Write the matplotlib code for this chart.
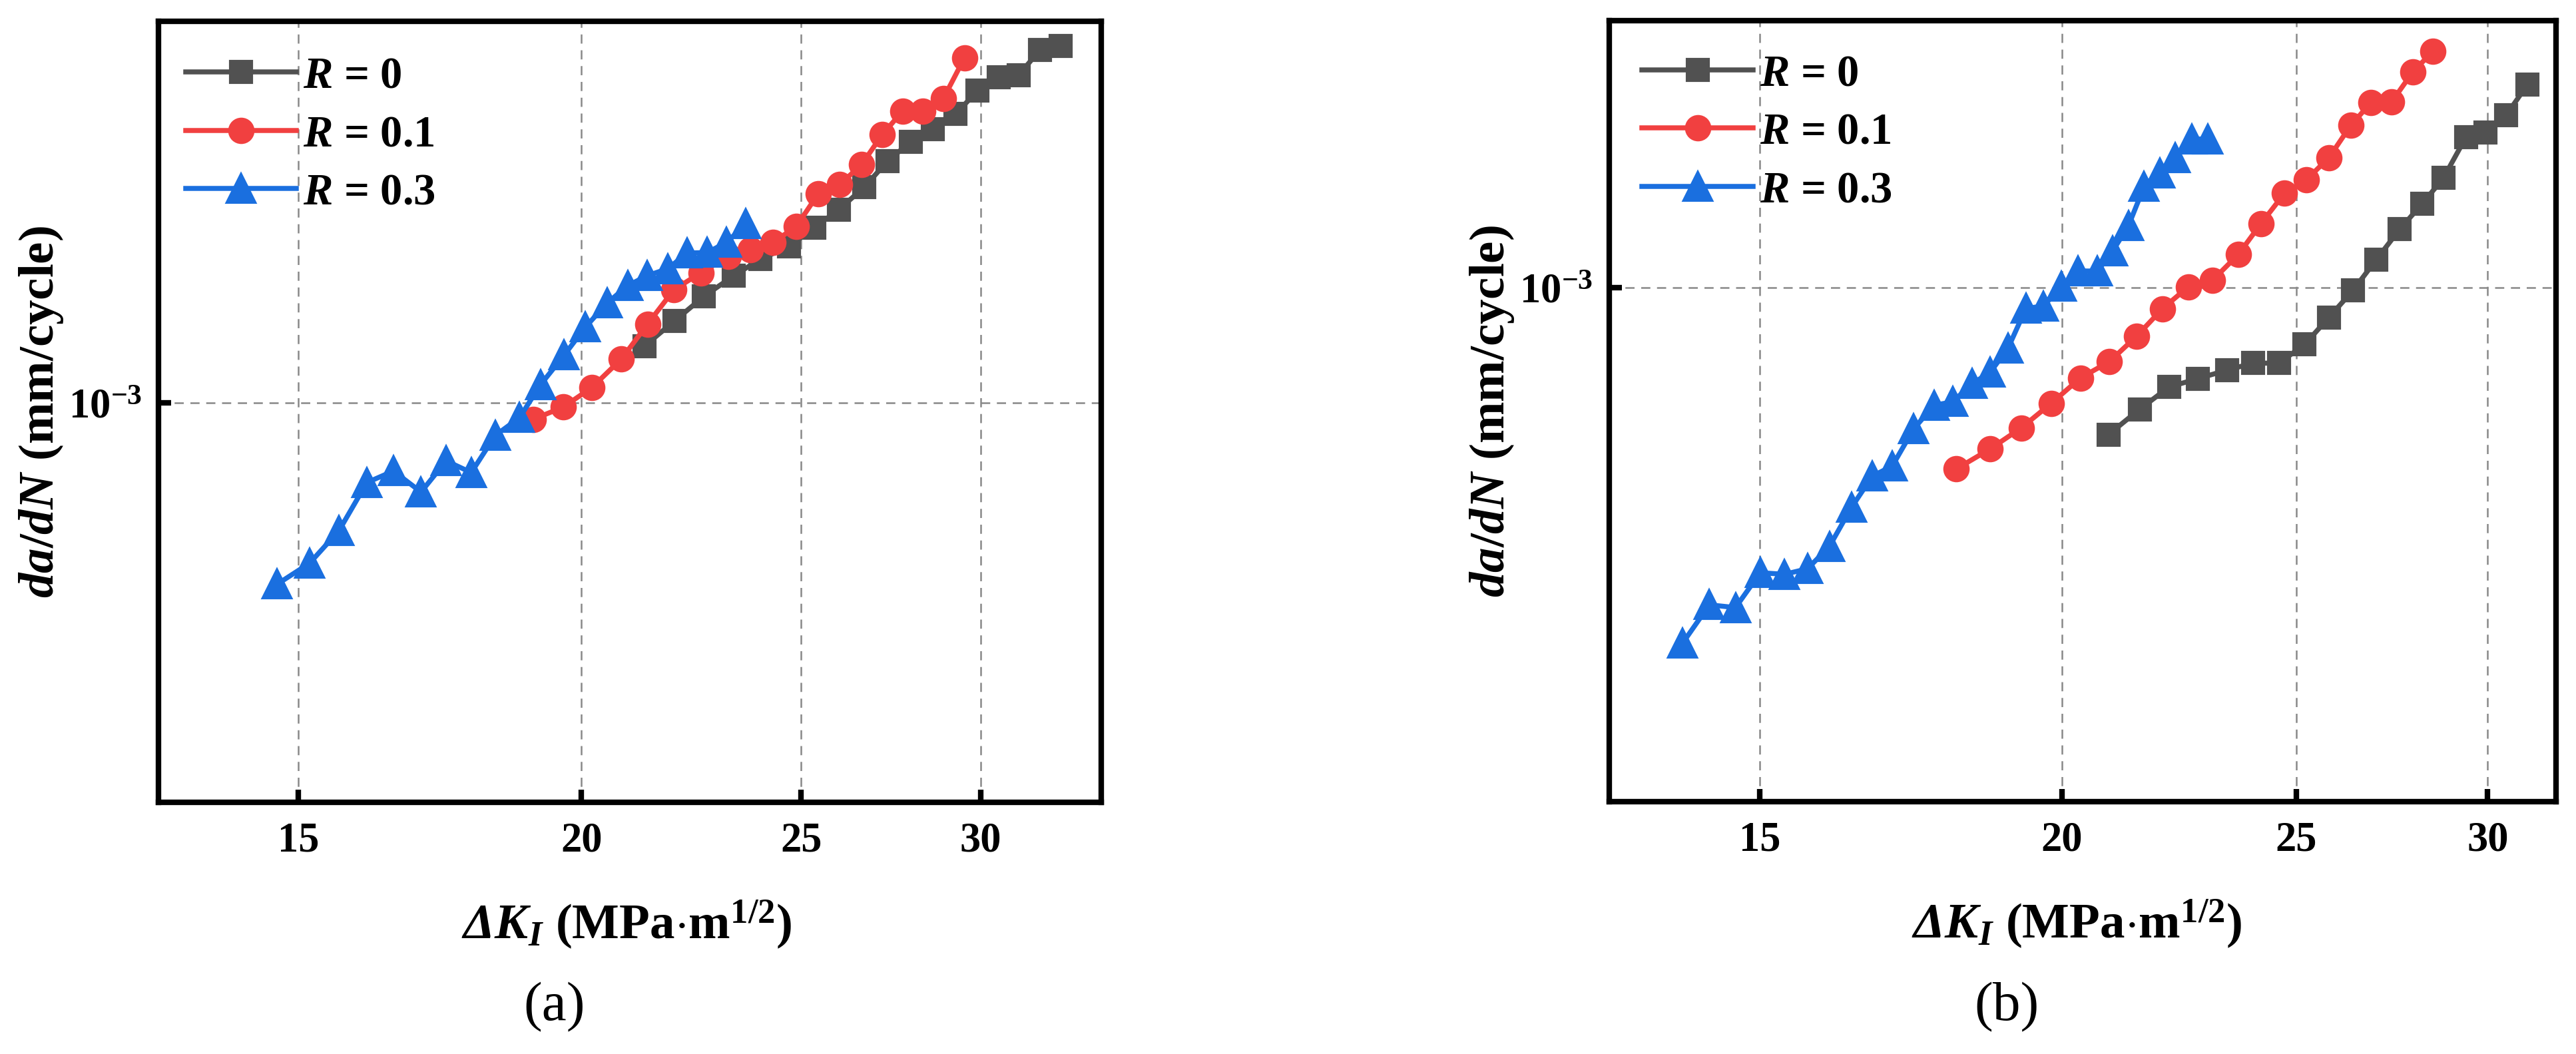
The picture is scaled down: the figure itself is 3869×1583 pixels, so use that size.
import numpy as np
import matplotlib
matplotlib.use('Agg')
import matplotlib.pyplot as plt
from matplotlib.ticker import FixedLocator, FixedFormatter, NullLocator

# (a) stress intensity factor range (MPa·m^1/2) and da/dN (x1e-4 mm/cycle)
a_dk_r0 = [21.32, 21.98, 22.65, 23.35, 23.99, 24.70, 25.34, 25.98, 26.66, 27.30, 27.95, 28.58, 29.25, 29.91, 30.56, 31.19, 31.88, 32.54]
a_da_r0 = [12.73, 14.17, 15.74, 17.19, 18.45, 19.47, 21.08, 22.79, 25.06, 28.03, 30.39, 32.12, 34.21, 37.78, 40.01, 40.41, 45.01, 45.75]
a_dk_r1 = [19.04, 19.63, 20.21, 20.83, 21.39, 21.97, 22.58, 23.22, 23.75, 24.30, 24.88, 25.44, 26.00, 26.59, 27.15, 27.72, 28.30, 28.89, 29.52]
a_da_r1 = [9.32, 9.82, 10.67, 12.06, 13.99, 16.19, 17.41, 18.65, 19.18, 19.81, 21.20, 24.36, 25.33, 27.60, 31.35, 34.65, 34.65, 36.54, 43.51]
a_dk_r3 = [14.68, 15.17, 15.63, 16.08, 16.52, 16.99, 17.43, 17.88, 18.32, 18.78, 19.18, 19.65, 20.08, 20.53, 20.96, 21.38, 21.83, 22.27, 22.73, 23.18, 23.64]
a_da_r3 = [4.62, 5.05, 5.80, 7.12, 7.48, 6.84, 7.81, 7.43, 8.70, 9.39, 10.79, 12.25, 13.81, 15.30, 16.47, 17.19, 17.70, 18.93, 18.97, 19.82, 21.42]

# (b)
b_dk_r0 = [20.91, 21.54, 22.15, 22.77, 23.41, 23.99, 24.59, 25.20, 25.79, 26.39, 26.98, 27.59, 28.19, 28.76, 29.38, 29.93, 30.53, 31.15]
b_da_r0 = [5.35, 5.96, 6.55, 6.79, 7.04, 7.25, 7.25, 7.85, 8.81, 9.89, 11.27, 12.83, 14.31, 15.95, 18.97, 19.38, 20.84, 23.74]
b_dk_r1 = [18.09, 18.68, 19.24, 19.80, 20.36, 20.93, 21.48, 22.01, 22.56, 23.09, 23.66, 24.17, 24.72, 25.24, 25.79, 26.33, 26.84, 27.38, 27.93, 28.47]
b_da_r1 = [4.62, 5.03, 5.50, 6.11, 6.81, 7.30, 8.14, 9.14, 10.04, 10.33, 11.52, 13.12, 14.94, 15.83, 17.39, 19.95, 21.98, 22.08, 25.04, 27.36]
b_dk_r3 = [13.94, 14.30, 14.66, 15.01, 15.36, 15.70, 16.03, 16.37, 16.70, 17.02, 17.37, 17.71, 18.03, 18.36, 18.68, 19.00, 19.33, 19.65, 19.99, 20.31, 20.69, 20.99, 21.31, 21.63, 21.95, 22.28, 22.63, 22.98]
b_da_r3 = [2.20, 2.59, 2.56, 2.97, 2.95, 3.02, 3.32, 3.92, 4.48, 4.68, 5.48, 6.06, 6.15, 6.64, 6.97, 7.72, 9.16, 9.24, 10.05, 10.74, 10.73, 11.68, 13.02, 15.38, 16.30, 17.39, 18.83, 18.83]

labels = [r'$R$ = 0', r'$R$ = 0.1', r'$R$ = 0.3']
xticks = [15, 20, 25, 30]

plt.rcParams['font.family'] = 'Liberation Serif'
plt.rcParams['font.weight'] = 'bold'
plt.rcParams['axes.labelweight'] = 'bold'
plt.rcParams['mathtext.fontset'] = 'custom'
plt.rcParams['mathtext.rm'] = 'Liberation Serif:bold'
plt.rcParams['mathtext.it'] = 'Liberation Serif:italic:bold'
plt.rcParams['mathtext.bf'] = 'Liberation Serif:bold'
plt.rcParams['mathtext.bfit'] = 'Liberation Serif:italic:bold'

colors = ['#515151', '#F14040', '#1A6FDF']
markers = ['s', 'o', '^']
msizes = [7.7, 8.5, 10]

fig = plt.figure(figsize=(3869 / 300, 1583 / 300), dpi=300)
axa = fig.add_axes([0.0615, 0.2388, 0.366, 0.741])
axb = fig.add_axes([0.6247, 0.2394, 0.3675, 0.741])

panels = [
    (axa, [(a_dk_r0, a_da_r0), (a_dk_r1, a_da_r1), (a_dk_r3, a_da_r3)],
     (13.01, 33.92), (1.824e-4, 5.08e-3), 0.4965, -0.124, (0.0099, 0.978)),
    (axb, [(b_dk_r0, b_da_r0), (b_dk_r1, b_da_r1), (b_dk_r3, b_da_r3)],
     (13.0, 32.01), (1.12e-4, 3.118e-3), 0.4937, -0.124, (0.016, 0.980)),
]

for ax, series, xlim, ylim, xlc, ylc, lanchor in panels:
    for (dk, da), c, m, ms, lab in zip(series, colors, markers, msizes, labels):
        ax.plot(dk, np.array(da) * 1e-4, color=c, marker=m, ms=ms, lw=1.8, label=lab)
    ax.set_xscale('log')
    ax.set_yscale('log')
    ax.set_xlim(*xlim)
    ax.set_ylim(*ylim)
    ax.xaxis.set_major_locator(FixedLocator(xticks))
    ax.xaxis.set_major_formatter(FixedFormatter([str(t) for t in xticks]))
    ax.yaxis.set_major_locator(FixedLocator([1e-3]))
    ax.yaxis.set_major_formatter(FixedFormatter([r'$10^{-3}$']))
    ax.xaxis.set_minor_locator(NullLocator())
    ax.yaxis.set_minor_locator(NullLocator())
    ax.grid(True, ls=(0, (5.5, 4)), color='#888888', lw=0.6)
    ax.tick_params(direction='in', length=4.5, width=2, labelsize=15)
    ax.tick_params(axis='x', pad=7)
    ax.tick_params(axis='y', pad=6)
    for sp in ax.spines.values():
        sp.set_linewidth(2)
    ax.set_xlabel(r'$\mathbfit{ΔK_I}$ (MPa$\cdot$m$^{1/2}$)', fontsize=18, va='center')
    ax.xaxis.set_label_coords(xlc, -0.157)
    ax.set_ylabel(r'$\mathit{da/dN}$ (mm/cycle)', fontsize=18, va='center')
    ax.yaxis.set_label_coords(ylc, 0.5)
    ax.legend(loc='upper left', bbox_to_anchor=lanchor, frameon=False, fontsize=16,
              handlelength=2.5, handletextpad=0.15, labelspacing=0.4,
              borderaxespad=0, borderpad=0.4)

fig.text(0.2153, 0.0442, '(a)', fontsize=20, fontweight='normal', ha='center', va='center')
fig.text(0.779, 0.0442, '(b)', fontsize=20, fontweight='normal', ha='center', va='center')

fig.savefig('out.png', dpi=300)
